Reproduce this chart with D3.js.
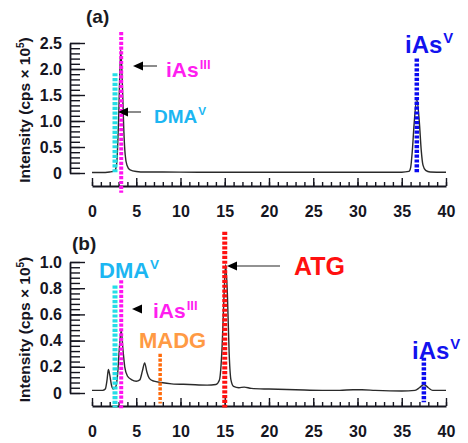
<!DOCTYPE html>
<html>
<head>
<meta charset="utf-8">
<script src="https://cdn.jsdelivr.net/npm/d3@7"></script>
<style>
body { margin: 0; background: #fff; }
svg { display: block; font-family: "Liberation Sans", Arial, sans-serif; font-weight: bold; }
</style>
</head>
<body>
<svg id="chart" width="468" height="443"></svg>
<script>
// retention time (min) / intensity (cps x 10^5)
var timeA   = [0, 1, 2, 2.4, 2.6, 2.8, 3.0, 3.25, 3.45, 3.6, 3.75, 3.95, 4.3, 5, 6, 8, 12, 20, 30, 35, 35.8, 36.0, 36.2, 36.4, 36.7, 37.0, 37.2, 37.4, 37.7, 38.2, 40];
var signalA = [0.01, 0.01, 0.02, 0.03, 0.05, 0.2, 1.0, 2.37, 1.6, 0.8, 0.35, 0.15, 0.06, 0.03, 0.02, 0.02, 0.015, 0.015, 0.015, 0.015, 0.03, 0.1, 0.44, 0.95, 1.42, 0.95, 0.44, 0.15, 0.05, 0.02, 0.015];

var timeB   = [0, 1.2, 1.5, 1.7, 1.85, 2.0, 2.2, 2.4, 2.7, 2.9, 3.1, 3.3, 3.5, 3.7, 4.0, 4.5, 5.0, 5.4, 5.7, 5.95, 6.2, 6.5, 7.0, 7.8, 9, 11, 13, 14, 14.4, 14.7, 14.95, 15.1, 15.3, 15.5, 15.7, 16, 16.6, 17.2, 18, 20, 23, 26, 28, 29.5, 30.5, 32, 35, 36.5, 37, 37.5, 38, 38.5, 40];
var signalB = [0.02, 0.02, 0.03, 0.1, 0.18, 0.14, 0.06, 0.03, 0.05, 0.15, 0.35, 0.48, 0.33, 0.2, 0.13, 0.1, 0.09, 0.1, 0.17, 0.23, 0.16, 0.11, 0.09, 0.08, 0.07, 0.065, 0.06, 0.065, 0.1, 0.35, 0.8, 0.98, 0.75, 0.3, 0.1, 0.05, 0.04, 0.045, 0.035, 0.03, 0.025, 0.02, 0.02, 0.025, 0.025, 0.02, 0.015, 0.02, 0.04, 0.065, 0.04, 0.02, 0.02];

var xTicks = [0, 5, 10, 15, 20, 25, 30, 35, 40];
var yTicksA = [0, 0.5, 1.0, 1.5, 2.0, 2.5];
var yLabelsA = ["0", "0.5", "1.0", "1.5", "2.0", "2.5"];
var yTicksB = [0, 0.2, 0.4, 0.6, 0.8, 1.0];
var yLabelsB = ["0", "0.2", "0.4", "0.6", "0.8", "1.0"];

// dotted marker lines: species, time, top, bottom (intensity units)
var markerNamesA = ["DMAV", "iAsIII", "iAsV"];
var markerTimesA = [2.6, 3.3, 36.7];
var markerTopA = [1.92, 2.71, 2.2];
var markerBottomA = [0, -0.38, 0];

var markerNamesB = ["DMAV", "iAsIII", "MADG", "ATG", "iAsV"];
var markerTimesB = [2.6, 3.3, 7.7, 15.0, 37.5];
var markerTopB = [0.82, 0.86, 0.3, 1.23, 0.27];
var markerBottomB = [-0.11, -0.13, -0.08, -0.11, -0.07];

var lineColor = { DMAV: "#25dde6", iAsIII: "#ff14f0", iAsV: "#0a0af0", MADG: "#ff6a0a", ATG: "#ff1010" };
var lineWidth = { DMAV: 5, iAsIII: 4, iAsV: 4.5, MADG: 3.5, ATG: 5 };

var svg = d3.select("#chart");
var TICK_COLOR = "#15151f";

function drawPanel(p) {
    var g = svg.append("g");
    var x = d3.scaleLinear().domain([0, 40]).range([92, 446]);
    var y = d3.scaleLinear().domain([0, p.yMax]).range([p.y0, p.y1]);

    // y axis, ticks pointing right
    g.append("g")
        .attr("transform", "translate(70,0)")
        .call(d3.axisLeft(y).tickValues(d3.range(0, p.yMax + 1e-6, p.yMinor)).tickSize(-10).tickFormat(""))
        .call(s => s.select(".domain").remove());
    var ya = g.append("g")
        .attr("transform", "translate(70,0)")
        .call(d3.axisLeft(y).tickValues(p.yTicks).tickSize(-15).tickSizeOuter(0).tickPadding(8)
            .tickFormat((d, i) => p.yLabels[i]));
    ya.selectAll("text").attr("font-size", 16).attr("font-family", null).attr("fill", TICK_COLOR);

    // x axis, drawn lower than the zero line, ticks pointing up
    g.append("g")
        .attr("transform", "translate(0," + p.xAxisY + ")")
        .call(d3.axisBottom(x).tickValues(d3.range(0, 41, 1)).tickSize(-4).tickFormat(""))
        .call(s => s.select(".domain").remove());
    var xa = g.append("g")
        .attr("transform", "translate(0," + p.xAxisY + ")")
        .call(d3.axisBottom(x).tickValues(xTicks).tickSize(-8).tickSizeOuter(0).tickPadding(20));
    xa.selectAll("text").attr("font-size", 16).attr("font-family", null).attr("fill", TICK_COLOR);

    g.selectAll(".domain").attr("stroke", TICK_COLOR).attr("stroke-width", 1.8);
    g.selectAll(".tick line").attr("stroke", TICK_COLOR).attr("stroke-width", 1.4);

    // trace
    var line = d3.line()
        .x((d, i) => x(p.time[i]))
        .y(d => y(d))
        .curve(d3.curveMonotoneX);
    g.append("path")
        .attr("d", line(p.signal))
        .attr("fill", "none")
        .attr("stroke", "#2a2a2a")
        .attr("stroke-width", 1.4);

    // dotted markers
    p.names.forEach(function(n, i) {
        g.append("line")
            .attr("x1", x(p.times[i])).attr("x2", x(p.times[i]))
            .attr("y1", y(p.tops[i])).attr("y2", y(p.bottoms[i]))
            .attr("stroke", lineColor[n])
            .attr("stroke-width", lineWidth[n])
            .attr("stroke-dasharray", "3.2,1.6");
    });

    // title
    g.append("text").attr("x", p.titleX).attr("y", p.titleY)
        .attr("font-size", 19).attr("fill", "#1a1a22").text(p.title);

    // y label
    var yl = g.append("text")
        .attr("transform", "translate(30," + ((p.y0 + p.y1) / 2 + 2) + ") rotate(-90)")
        .attr("text-anchor", "middle")
        .attr("font-size", 15.5)
        .attr("fill", "#15151f");
    yl.append("tspan").text("Intensity (cps \u00d7 10");
    yl.append("tspan").attr("font-size", 10).attr("dy", -6).text("5");
    yl.append("tspan").attr("dy", 6).text(")");

    return g;
}

function label(g, x, y, size, color, main, sup) {
    var t = g.append("text").attr("x", x).attr("y", y)
        .attr("font-size", size).attr("fill", color);
    t.append("tspan").text(main);
    if (sup) t.append("tspan").attr("font-size", size * 0.62).attr("dy", -size * 0.4).attr("dx", 1).text(sup);
}

function arrow(g, x1, x2, y) {
    g.append("line").attr("x1", x1).attr("x2", x2 + 6).attr("y1", y).attr("y2", y)
        .attr("stroke", "#6e6e6e").attr("stroke-width", 1.6);
    g.append("path")
        .attr("d", "M" + x2 + "," + y + "l10,-4.5l0,9z")
        .attr("fill", "#000");
}

var ga = drawPanel({
    yMax: 2.5, y0: 173, y1: 43, yMinor: 0.1, yTicks: yTicksA, yLabels: yLabelsA,
    xAxisY: 186, time: timeA, signal: signalA,
    names: markerNamesA, times: markerTimesA, tops: markerTopA, bottoms: markerBottomA,
    title: "(a)", titleX: 86, titleY: 23
});
arrow(ga, 157, 133, 66);
arrow(ga, 141, 118, 112);
label(ga, 166, 77, 21, "#ff1ef0", "iAs", "III");
label(ga, 154, 123, 19, "#1cb6f2", "DMA", "V");
label(ga, 405, 53, 24, "#1212ee", "iAs", "V");

var gb = drawPanel({
    yMax: 1.0, y0: 393, y1: 262, yMinor: 0.04, yTicks: yTicksB, yLabels: yLabelsB,
    xAxisY: 406, time: timeB, signal: signalB,
    names: markerNamesB, times: markerTimesB, tops: markerTopB, bottoms: markerBottomB,
    title: "(b)", titleX: 72, titleY: 250
});
arrow(gb, 142, 132, 309);
arrow(gb, 280, 227, 266);
label(gb, 99, 278, 22, "#1cb6f2", "DMA", "V");
label(gb, 153, 318, 21, "#ff1ef0", "iAs", "III");
label(gb, 139, 348, 22, "#ff9a44", "MADG");
label(gb, 294, 275, 25, "#ff1010", "ATG");
label(gb, 412, 359, 24, "#1212ee", "iAs", "V");
</script>
</body>
</html>
